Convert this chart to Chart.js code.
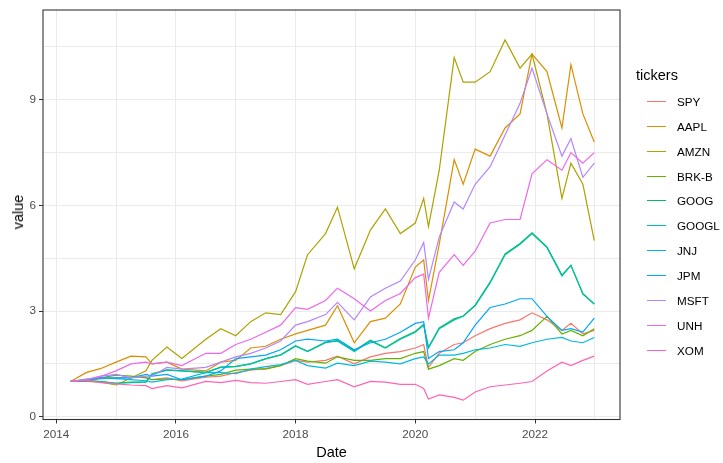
<!DOCTYPE html>
<html>
<head>
<meta charset="utf-8">
<script src="https://cdn.jsdelivr.net/npm/chart.js@4.4.0/dist/chart.umd.min.js"></script>
<style>
  body { margin: 0; background: #fff; font-family: "Liberation Sans", Arial, sans-serif; }
  #wrap { position: relative; width: 723px; height: 463px; overflow: hidden; }
  #myChart { position: absolute; left: 0; top: 0; }
  .title { position: absolute; color: #000; font-size: 14.5px; line-height: 16px; white-space: nowrap; }
  #xtitle { left: 43px; width: 577px; top: 444px; text-align: center; }
  #ytitle { left: 18px; top: 212px; transform: translate(-50%, -50%) rotate(-90deg); }
  #legend { position: absolute; left: 636px; top: 0; }
  #legend .ltitle { position: absolute; left: 0; top: 67px; font-size: 14.5px; line-height: 16px; }
  .item { position: absolute; left: 0; height: 16px; width: 90px; }
  .item .key { position: absolute; left: 11px; top: 7px; width: 19px; height: 0; border-top: 1.3px solid; }
  .item .lab { position: absolute; left: 41px; top: 1px; font-size: 11.7px; line-height: 14px; color: #000; }
</style>
</head>
<body>
<div id="wrap">
  <canvas id="myChart" width="723" height="463"></canvas>
  <div class="title" id="xtitle">Date</div>
  <div class="title" id="ytitle">value</div>
  <div id="legend"><div class="ltitle">tickers</div></div>
</div>
<script>
// dates as decimal years
const dates = [2014.24, 2014.5, 2014.75, 2015.0, 2015.25, 2015.5, 2015.6, 2015.85, 2016.1, 2016.5,
  2016.75, 2017.0, 2017.25, 2017.5, 2017.75, 2018.0, 2018.2, 2018.5, 2018.7, 2018.98,
  2019.25, 2019.5, 2019.75, 2020.0, 2020.14, 2020.22, 2020.4, 2020.65, 2020.8, 2021.0,
  2021.25, 2021.5, 2021.75, 2021.95, 2022.2, 2022.45, 2022.6, 2022.8, 2022.99];

const tickers = ['SPY', 'AAPL', 'AMZN', 'BRK-B', 'GOOG', 'GOOGL', 'JNJ', 'JPM', 'MSFT', 'UNH', 'XOM'];
const colors = ['#F8766D', '#DB8E00', '#AEA200', '#64B200', '#00BD5C', '#00C1A7',
  '#00BADE', '#00A6FF', '#B385FF', '#EF67EB', '#FF63B6'];

const SPY = [1.0, 1.05, 1.07, 1.1, 1.12, 1.12, 1.05, 1.1, 1.02, 1.12,
  1.15, 1.25, 1.32, 1.37, 1.45, 1.6, 1.55, 1.6, 1.72, 1.5,
  1.7, 1.8, 1.85, 1.95, 2.05, 1.4, 1.8, 2.05, 2.1, 2.3,
  2.5, 2.65, 2.75, 2.95, 2.75, 2.45, 2.65, 2.35, 2.45];
const AAPL = [1.0, 1.25, 1.37, 1.55, 1.72, 1.7, 1.5, 1.55, 1.35, 1.3,
  1.55, 1.6, 1.95, 2.0, 2.2, 2.35, 2.45, 2.6, 3.15, 2.1,
  2.7, 2.8, 3.2, 4.25, 4.45, 3.3, 4.9, 7.3, 6.6, 7.6,
  7.4, 8.2, 8.6, 10.3, 9.8, 8.2, 10.0, 8.6, 7.8];
const AMZN = [1.0, 1.0, 0.98, 0.9, 1.1, 1.3, 1.6, 1.98, 1.65, 2.2,
  2.5, 2.3, 2.7, 2.95, 2.9, 3.55, 4.6, 5.2, 5.95, 4.2,
  5.3, 5.9, 5.2, 5.5, 6.2, 5.4, 7.0, 10.2, 9.5, 9.5,
  9.8, 10.7, 9.9, 10.3, 8.6, 6.2, 7.2, 6.6, 5.0];
const BRKB = [1.0, 1.02, 1.1, 1.18, 1.15, 1.1, 1.05, 1.07, 1.05, 1.15,
  1.2, 1.32, 1.35, 1.35, 1.45, 1.65, 1.58, 1.52, 1.7, 1.6,
  1.6, 1.65, 1.65, 1.8, 1.85, 1.35, 1.45, 1.65, 1.6, 1.85,
  2.05, 2.2, 2.3, 2.45, 2.85, 2.35, 2.45, 2.3, 2.5];
const GOOG = [1.0, 1.03, 1.0, 0.95, 0.98, 0.99, 1.22, 1.33, 1.3, 1.26,
  1.41, 1.43, 1.5, 1.64, 1.76, 2.02, 1.86, 2.12, 2.16, 1.87,
  2.17, 1.96, 2.22, 2.42, 2.62, 1.97, 2.52, 2.78, 2.86, 3.17,
  3.82, 4.62, 4.92, 5.22, 4.82, 4.02, 4.3, 3.48, 3.2];
const GOOGL = [1.0, 1.02, 1.0, 0.95, 0.97, 0.98, 1.2, 1.32, 1.3, 1.25,
  1.4, 1.42, 1.5, 1.65, 1.75, 2.0, 1.85, 2.1, 2.15, 1.85,
  2.15, 1.95, 2.2, 2.4, 2.6, 1.95, 2.5, 2.75, 2.85, 3.15,
  3.8, 4.6, 4.9, 5.2, 4.8, 4.0, 4.3, 3.5, 3.2];
const JNJ = [1.0, 1.07, 1.1, 1.08, 1.05, 1.02, 0.98, 1.05, 1.07, 1.25,
  1.25, 1.22, 1.35, 1.42, 1.48, 1.6, 1.45, 1.38, 1.52, 1.45,
  1.58, 1.55, 1.5, 1.65, 1.7, 1.5, 1.75, 1.75, 1.8, 1.9,
  1.95, 2.05, 2.0, 2.1, 2.2, 2.25, 2.15, 2.1, 2.25];
const JPM = [1.0, 1.02, 1.1, 1.1, 1.1, 1.2, 1.15, 1.2, 1.05, 1.15,
  1.3, 1.65, 1.7, 1.75, 1.9, 2.15, 2.2, 2.15, 2.2, 1.9,
  2.1, 2.2, 2.4, 2.65, 2.7, 1.65, 1.85, 1.9, 2.1, 2.6,
  3.1, 3.2, 3.35, 3.35, 2.85, 2.45, 2.5, 2.4, 2.8];
const MSFT = [1.0, 1.05, 1.15, 1.2, 1.1, 1.15, 1.15, 1.4, 1.35, 1.4,
  1.55, 1.7, 1.8, 1.95, 2.15, 2.6, 2.7, 2.9, 3.25, 2.75,
  3.4, 3.65, 3.85, 4.45, 4.95, 3.9, 5.1, 6.1, 5.9, 6.6,
  7.1, 8.0, 8.9, 9.9, 8.6, 7.4, 7.9, 6.8, 7.2];
const UNH = [1.0, 1.05, 1.15, 1.3, 1.5, 1.55, 1.5, 1.55, 1.45, 1.8,
  1.8, 2.05, 2.2, 2.4, 2.6, 3.1, 3.05, 3.3, 3.65, 3.35,
  3.0, 3.3, 3.5, 3.95, 4.05, 2.8, 4.1, 4.6, 4.3, 4.7,
  5.5, 5.6, 5.6, 6.9, 7.3, 7.0, 7.5, 7.2, 7.5];
const XOM = [1.0, 1.03, 0.97, 0.93, 0.9, 0.88, 0.8, 0.88, 0.82, 1.0,
  0.97, 1.03, 0.97, 0.95, 1.0, 1.05, 0.92, 1.0, 1.05, 0.85,
  1.0, 0.98, 0.92, 0.92, 0.8, 0.5, 0.62, 0.55, 0.47, 0.7,
  0.85, 0.9, 0.95, 1.0, 1.3, 1.55, 1.45, 1.6, 1.72];

const seriesValues = [SPY, AAPL, AMZN, BRKB, GOOG, GOOGL, JNJ, JPM, MSFT, UNH, XOM];

const xGrid = [2014, 2015, 2016, 2017, 2018, 2019, 2020, 2021, 2022, 2023];
const yGrid = [0, 1.5, 3, 4.5, 6, 7.5, 9, 10.5];

var datasets = tickers.map(function (t, i) {
  return {
    label: t,
    data: dates.map(function (d, j) { return { x: d, y: seriesValues[i][j] }; }),
    borderColor: colors[i],
    backgroundColor: colors[i],
    borderWidth: 1.2,
    pointRadius: 0,
    tension: 0,
    fill: false,
    order: tickers.length - i
  };
});

// panel border drawn on top like ggplot theme_bw
const panelBorder = {
  id: 'panelBorder',
  afterDraw(chart) {
    const a = chart.chartArea;
    const c = chart.ctx;
    c.save();
    c.strokeStyle = '#333333';
    c.lineWidth = 1.1;
    c.strokeRect(a.left, a.top, a.right - a.left, a.bottom - a.top);
    c.restore();
  }
};

var ctx = document.getElementById('myChart').getContext('2d');
var myChart = new Chart(ctx, {
  type: 'line',
  data: { datasets: datasets },
  plugins: [panelBorder],
  options: {
    responsive: false,
    animation: false,
    layout: { padding: { left: 0, right: 103, top: 5.5, bottom: 0 } },
    plugins: { legend: { display: false }, tooltip: { enabled: false } },
    scales: {
      x: {
        type: 'linear',
        min: 2013.78,
        max: 2023.42,
        afterBuildTicks: function (scale) { scale.ticks = xGrid.map(function (v) { return { value: v }; }); },
        afterFit: function (scale) { scale.height = 43.5; },
        border: { display: false },
        grid: {
          color: '#EBEBEB',
          lineWidth: 1,
          tickLength: 4,
          tickColor: function (c) { return c.tick && c.tick.value % 2 === 0 ? '#333333' : 'rgba(0,0,0,0)'; }
        },
        ticks: {
          autoSkip: false,
          maxRotation: 0,
          padding: 4,
          color: '#4D4D4D',
          font: { family: 'Liberation Sans', size: 11.7 },
          callback: function (v) { return v % 2 === 0 ? String(v) : ''; }
        }
      },
      y: {
        type: 'linear',
        min: -0.08,
        max: 11.55,
        afterBuildTicks: function (scale) { scale.ticks = yGrid.map(function (v) { return { value: v }; }); },
        afterFit: function (scale) { scale.width = 43; },
        border: { display: false },
        grid: {
          color: '#EBEBEB',
          lineWidth: 1,
          tickLength: 4,
          tickColor: function (c) { return c.tick && c.tick.value % 3 === 0 ? '#333333' : 'rgba(0,0,0,0)'; }
        },
        ticks: {
          autoSkip: false,
          padding: 3,
          color: '#4D4D4D',
          font: { family: 'Liberation Sans', size: 11.7 },
          callback: function (v) { return v % 3 === 0 ? String(v) : ''; }
        }
      }
    }
  }
});

// legend in ggplot style
var legend = document.getElementById('legend');
for (var i = 0; i < tickers.length; i++) {
  var item = document.createElement('div');
  item.className = 'item';
  item.style.top = Math.round(94 + i * 24.85) + 'px';
  item.innerHTML = '<div class="key" style="border-color:' + colors[i] + '"></div><div class="lab">' + tickers[i] + '</div>';
  legend.appendChild(item);
}
</script>
</body>
</html>
